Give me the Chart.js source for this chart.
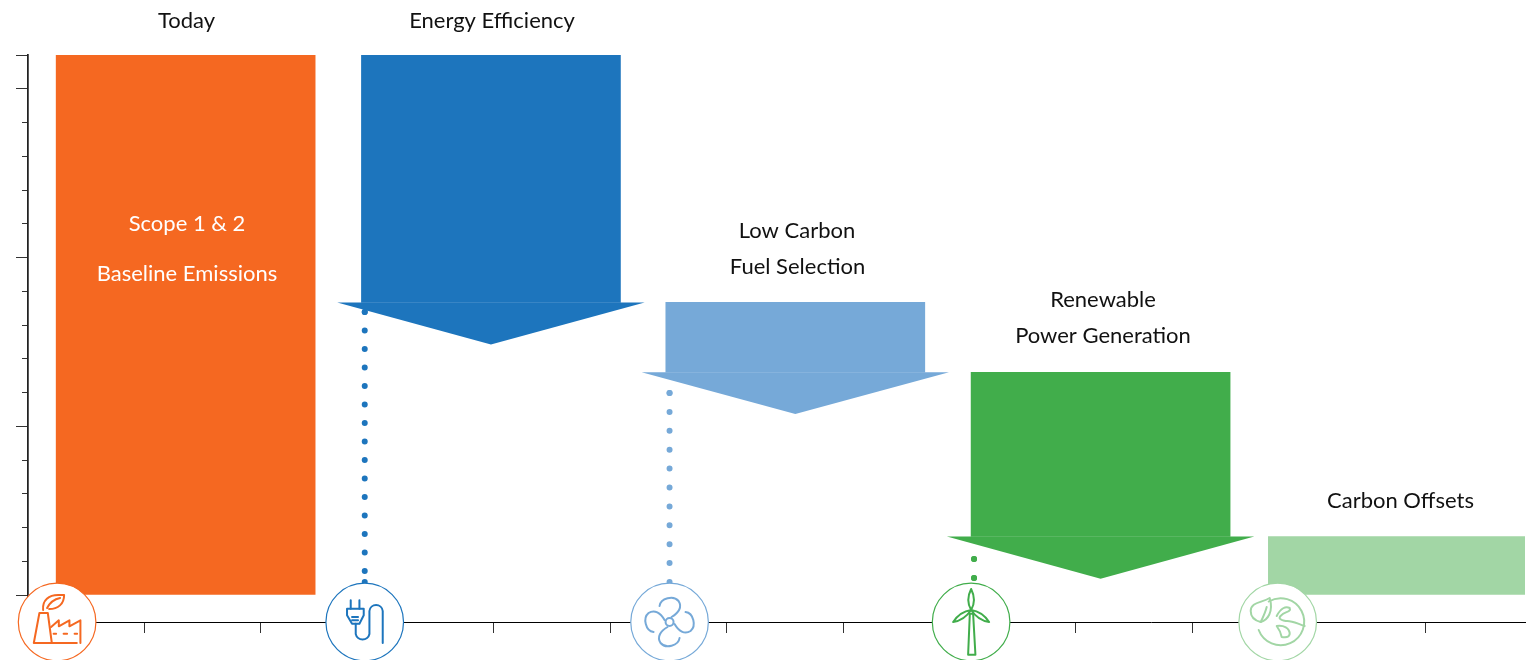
<!DOCTYPE html>
<html lang="en">
<head>
  <meta charset="UTF-8">
  <title>Emissions reduction pathway</title>
  <script src="https://cdn.jsdelivr.net/npm/chart.js"></script>
  <style>
    html, body { margin: 0; padding: 0; background: #fff; overflow: hidden; }
    #wrap { width: 1529px; height: 660px; }
  </style>
</head>
<body>
  <div id="wrap"><canvas id="pathway" width="1529" height="660"></canvas></div>

  <script>
    // Steps of the pathway, left to right
    const categories = ['Today', 'Energy Efficiency', 'Low Carbon Fuel Selection', 'Renewable Power Generation', 'Carbon Offsets'];
    const barCentres = [1.354, 3.976, 6.59, 9.212, 11.765];
    const barTops = [16, 16, 8.67, 6.6, 1.733];
    const barBottoms = [0, 8.67, 6.6, 1.733, 0];
    const barColours = ['#F56821', '#1D75BD', '#76A9D8', '#41AD4B', '#A2D6A5'];

    // Arrow heads under the three reduction bars
    const headCentres = [3.976, 6.59, 9.212];
    const headBases = [8.67, 6.6, 1.733];
    const headTips = [7.42, 5.36, 0.483];
    const headColours = ['#1D75BD', '#76A9D8', '#41AD4B'];
    const headHalfWidth = 1.32;

    // Dotted drop lines down to the icons
    const dropX = [2.892, 5.51, 8.125];
    const dropFrom = [8.385, 5.985, 1.067];
    const dropTo = [0.385, 0.385, 0.504];
    const dropColours = ['#1D75BD', '#76A9D8', '#41AD4B'];
    const dropGaps = [18.5, 18.9, 18.9];

    // Icon badges sitting on the x axis
    const iconX = [0.25, 2.892, 5.51, 8.10, 10.733];
    const iconKinds = ['factory', 'plug', 'fan', 'turbine', 'globe'];

    const labelLines = [
      { text: 'Today', x: 186.5, y: 21, color: '#111' },
      { text: 'Energy Efficiency', x: 492, y: 21, color: '#111' },
      { text: 'Scope 1 & 2', x: 187, y: 224, color: '#fff' },
      { text: 'Baseline Emissions', x: 187, y: 274, color: '#fff' },
      { text: 'Low Carbon', x: 797, y: 231, color: '#111' },
      { text: 'Fuel Selection', x: 797.5, y: 267, color: '#111' },
      { text: 'Renewable', x: 1103, y: 300, color: '#111' },
      { text: 'Power Generation', x: 1103, y: 336, color: '#111' },
      { text: 'Carbon Offsets', x: 1400.5, y: 501, color: '#111' }
    ];

    const barData = categories.map((name, i) => ({ x: barCentres[i], y: [barBottoms[i], barTops[i]] }));

    const dropSets = dropX.map((x, i) => ({
      type: 'line',
      order: 1,
      data: [{ x: x, y: dropFrom[i] }, { x: x, y: dropTo[i] }],
      borderColor: dropColours[i],
      borderWidth: 6,
      borderCapStyle: 'round',
      borderDash: [0, dropGaps[i]],
      pointRadius: 3,
      pointBorderWidth: 0,
      pointBackgroundColor: dropColours[i]
    }));

    // Icon outlines, relative to the badge centre
    const iconPaths = {
      factory: [
        'M-17.7 -9 L-9.3 -9 L-5.3 21 L-23.3 21 Z',
        'M-6 5 L1.7 -1.7 L1.7 4.3 L12.3 -1.7 L12.3 4.3 L23.3 -1.7 L23.3 21',
        'M-5.3 21 L19.7 21',
        'M-3.5 11.7 L-1 11.7 M6.5 11.7 L10 11.7 M17.5 11.7 L20 11.7',
        'M-14 -12 C-15 -22 -8 -27 1 -27 L7 -27 C7 -18 1 -13 -8 -13',
        'M-10 -14 C-7 -20 -2 -23 3 -24'
      ],
      plug: [
        'M-14 -21.7 L-14 -13.3 M-5.3 -21.7 L-5.3 -13.3',
        'M-17.7 -13.3 L-1 -13.3 L-1 -6.7 L-5.3 1.7 L-12.7 1.7 L-17.7 -6.7 Z',
        'M-12.7 -5 L-6.7 -5 M-12.7 -1.7 L-6.7 -1.7',
        'M-9 1.7 L-9 12 A7 7 0 0 0 4.7 12 L4.7 -11 A6.7 6.7 0 0 1 18 -11 L18 21'
      ],
      fan: [
        'M4 0 A4 4 0 1 0 -4 0 A4 4 0 1 0 4 0 Z',
        'M-10 -16 C-9 -24 4 -27 9 -21 C13 -15 9 -9 2 -5',
        'M16 -10 C24 -9 27 4 21 9 C15 13 9 9 5 2',
        'M10 16 C9 24 -4 27 -9 21 C-13 15 -9 9 -2 5',
        'M-16 10 C-24 9 -27 -4 -21 -9 C-15 -13 -9 -9 -5 -2'
      ],
      turbine: [
        'M-1.3 -8.3 L2 -8.3 L4.3 32.7 L-3 32.7 Z',
        'M0 -33 C3.5 -26 3.5 -18 0 -12 C-3.5 -18 -3.5 -26 0 -33 Z',
        'M0 -12 C-7 -11 -14 -6 -18 0 C-11 -1 -4 -6 0 -12 Z',
        'M0 -12 C7 -11 14 -6 18 0 C11 -1 4 -6 0 -12 Z'
      ],
      globe: [
        'M-9 -20.5 A23.5 23.5 0 1 1 -19 8',
        'M-8 -24 C-16 -19 -27 -20 -27 -11 C-27 -4 -21 -1 -17 0 C-10 -2 -4 -10 -8 -24 Z',
        'M-17 0 C-14 -6 -12 -11 -11 -15',
        'M-1 -6 C3 -14 8 -16 12 -14 C14 -10 6 -10 4 -7 C0 -4 2 -2 8 -1 C14 -2 20 2 27 4',
        'M-1 4 C6 3 12 6 12 12 C11 17 6 15 4 15 C3 10 2 8 -1 4 Z'
      ]
    };

    const headsPlugin = {
      id: 'arrowHeads',
      afterDatasetsDraw(chart) {
        const ctx = chart.ctx, xs = chart.scales.x, ys = chart.scales.y;
        ctx.save();
        headCentres.forEach((c, i) => {
          ctx.fillStyle = headColours[i];
          ctx.beginPath();
          ctx.moveTo(xs.getPixelForValue(c - headHalfWidth), ys.getPixelForValue(headBases[i]));
          ctx.lineTo(xs.getPixelForValue(c + headHalfWidth), ys.getPixelForValue(headBases[i]));
          ctx.lineTo(xs.getPixelForValue(c), ys.getPixelForValue(headTips[i]));
          ctx.closePath();
          ctx.fill();
        });
        ctx.restore();
      }
    };

    const badgesPlugin = {
      id: 'badges',
      afterDraw(chart) {
        const ctx = chart.ctx, xs = chart.scales.x;
        const cy = chart.chartArea.bottom;
        ctx.save();
        iconX.forEach((v, i) => {
          const cx = xs.getPixelForValue(v);
          ctx.beginPath();
          ctx.arc(cx, cy, 38.8, 0, Math.PI * 2);
          ctx.fillStyle = '#fff';
          ctx.fill();
          ctx.strokeStyle = barColours[i];
          ctx.lineWidth = 1.2;
          ctx.stroke();
          ctx.save();
          ctx.translate(cx, cy);
          ctx.lineWidth = 2;
          ctx.lineJoin = 'round';
          ctx.lineCap = 'round';
          iconPaths[iconKinds[i]].forEach(d => ctx.stroke(new Path2D(d)));
          ctx.restore();
        });
        ctx.restore();
      }
    };

    const textPlugin = {
      id: 'stepLabels',
      afterDraw(chart) {
        const ctx = chart.ctx;
        ctx.save();
        ctx.font = '22px Lato';
        ctx.textAlign = 'center';
        ctx.textBaseline = 'middle';
        labelLines.forEach(l => {
          ctx.fillStyle = l.color;
          ctx.fillText(l.text, l.x, l.y);
        });
        ctx.restore();
      }
    };

    // Keeps whole-number ticks only, the scale ends are not round
    function wholeTicks(scale) {
      scale.ticks = scale.ticks.filter(t => Number.isInteger(t.value));
    }

    function yAxis(step, len) {
      return {
        position: { x: 0 },
        min: -0.8,
        max: 16,
        afterBuildTicks: wholeTicks,
        ticks: { display: false, stepSize: step, autoSkip: false },
        grid: { drawOnChartArea: false, drawTicks: true, tickLength: len, tickColor: '#333', tickWidth: 1 },
        border: { display: true, color: '#222', width: 1.5 }
      };
    }

    new Chart(document.getElementById('pathway'), {
      data: {
        datasets: [{
          type: 'bar',
          order: 2,
          data: barData,
          backgroundColor: barColours,
          barThickness: 259
        }].concat(dropSets)
      },
      plugins: [headsPlugin, badgesPlugin, textPlugin],
      options: {
        responsive: false,
        animation: false,
        layout: { padding: { left: 28, top: 55, right: 0, bottom: 0 } },
        plugins: { legend: { display: false }, tooltip: { enabled: false } },
        scales: {
          x: {
            type: 'linear',
            offset: false,
            min: 0,
            max: 12.857,
            afterBuildTicks: wholeTicks,
            afterFit(scale) { scale.height = 38; },
            ticks: { display: false, stepSize: 1, autoSkip: false },
            grid: { offset: false, drawOnChartArea: false, drawTicks: true, tickLength: 11, tickColor: '#333', tickWidth: 1 },
            border: { display: true, color: '#000', width: 1 }
          },
          y: yAxis(1, 5),
          yMajor: yAxis(5, 11)
        }
      }
    });
  </script>
</body>
</html>
